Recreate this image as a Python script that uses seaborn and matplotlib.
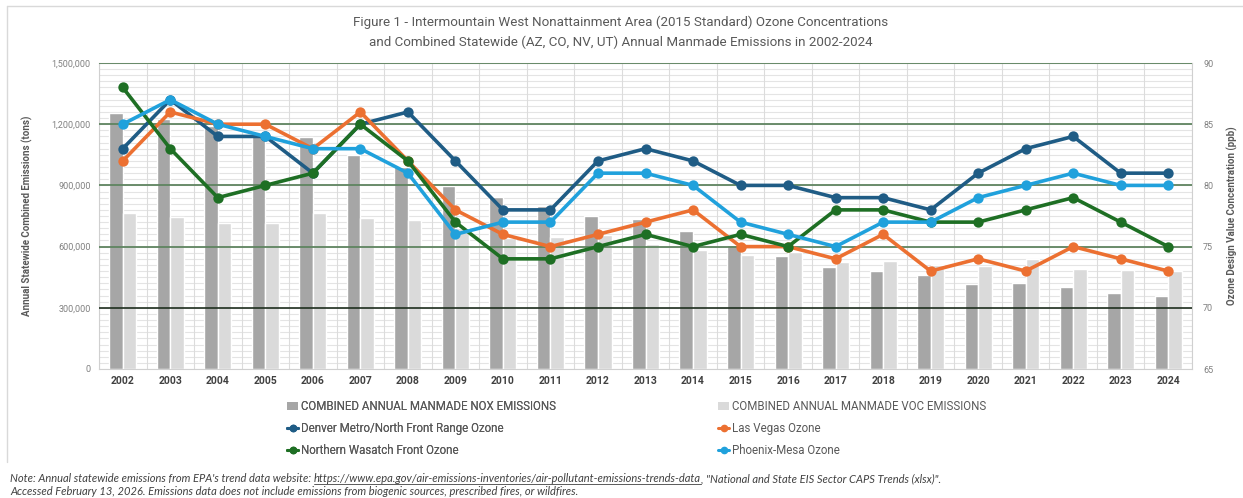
import pandas as pd
import matplotlib
matplotlib.use("Agg")
import matplotlib.pyplot as plt
import seaborn as sns
from matplotlib.lines import Line2D
from matplotlib.patches import Patch
from matplotlib.ticker import FuncFormatter, MultipleLocator

# data
years = [str(y) for y in range(2002, 2025)]
nox = [1255000, 1225000, 1190000, 1145000, 1137000, 1050000, 990000, 897000, 845000,
       800000, 748000, 736000, 676000, 608000, 555000, 498000, 482000, 461000, 417000,
       420000, 400000, 371000, 358000]
voc = [763000, 747000, 717000, 714000, 763000, 742000, 730000, 690000, 642000, 647000,
       657000, 613000, 585000, 559000, 575000, 525000, 531000, 510000, 506000, 538000,
       490000, 485000, 482000]
denver = [83, 87, 84, 84, 81, 85, 86, 82, 78, 78, 82, 83, 82, 80, 80, 79, 79, 78, 81, 83, 84, 81, 81]
las_vegas = [82, 86, 85, 85, 83, 86, 82, 78, 76, 75, 76, 77, 78, 75, 75, 74, 76, 73, 74, 73, 75, 74, 73]
wasatch = [88, 83, 79, 80, 81, 85, 82, 77, 74, 74, 75, 76, 75, 76, 75, 78, 78, 77, 77, 78, 79, 77, 75]
phoenix = [85, 87, 85, 84, 83, 83, 81, 76, 77, 77, 81, 81, 80, 77, 76, 75, 77, 77, 79, 80, 81, 80, 80]

bar_names = ["COMBINED ANNUAL MANMADE NOX EMISSIONS", "COMBINED ANNUAL MANMADE VOC EMISSIONS"]
site_names = ["Denver Metro/North Front Range Ozone", "Las Vegas Ozone",
              "Northern Wasatch Front Ozone", "Phoenix-Mesa Ozone"]
bar_colors = ["#a6a6a6", "#dadada"]
site_colors = ["#1f5c85", "#ec7031", "#1e6f24", "#20a1dc"]

em = pd.DataFrame({"year": years * 2, "tons": nox + voc,
                   "kind": [bar_names[0]] * len(years) + [bar_names[1]] * len(years)})
oz = pd.DataFrame({"year": years * 4,
                   "ppb": denver + las_vegas + wasatch + phoenix,
                   "site": sum([[s] * len(years) for s in site_names], [])})

sns.set_theme(style="white")
plt.rcParams["font.family"] = ["Roboto", "DejaVu Sans"]

fig, ax = plt.subplots(figsize=(12.43, 4.98), dpi=100)
fig.subplots_adjust(left=99 / 1243, right=1192 / 1243, top=1 - 63 / 498, bottom=1 - 369 / 498)

# background grid on the primary axis
ax.set_axisbelow(True)
for k in range(0, 51):
    ax.axhline(k * 30000, color="#e4e4e4", lw=0.8, zorder=0)
for k in range(24):
    ax.axvline(k - 0.5, color="#dcdcdc", lw=0.8, zorder=0)

sns.barplot(data=em, x="year", y="tons", hue="kind", hue_order=bar_names,
            palette=bar_colors, width=0.57, gap=0, saturation=1, ax=ax, legend=False, zorder=2)
ax.set_xlim(-0.5, 22.5)
ax.set_ylim(0, 1500000)
ax.yaxis.set_major_locator(MultipleLocator(300000))
ax.yaxis.set_major_formatter(FuncFormatter(lambda v, p: f"{int(v):,}"))
ax.set_xlabel("")
ax.set_ylabel("")
ax.tick_params(axis="y", length=0, labelsize=6.5, labelcolor="#808080", pad=6)
ax.tick_params(axis="x", length=0, labelsize=7.5, labelcolor="#404040", pad=5)
for t in ax.get_xticklabels():
    t.set_fontweight("bold")
for s in ax.spines.values():
    s.set_color("#d0d0d0")
    s.set_linewidth(0.8)

ax2 = ax.twinx()
for v in [75, 80, 85, 90]:
    ax2.axhline(v, color="#5f8460", lw=1.3, zorder=1)
ax2.axhline(70, color="#1e2e1e", lw=1.2, zorder=1)
sns.pointplot(data=oz, x="year", y="ppb", hue="site", hue_order=site_names,
              palette=site_colors, markers="o", linestyles="-", errorbar=None,
              markersize=5.5, linewidth=2.6, ax=ax2, legend=False, zorder=3)
ax2.set_xlim(-0.5, 22.5)
ax2.set_ylim(65, 90)
ax2.yaxis.set_major_locator(MultipleLocator(5))
ax2.set_ylabel("")
ax2.set_xlabel("")
ax2.tick_params(axis="y", length=0, labelsize=6.5, labelcolor="#808080", pad=8)
for s in ax2.spines.values():
    s.set_visible(False)

# titles and axis labels
fig.text(621 / 1243, 1 - 22 / 498,
         "Figure 1 - Intermountain West Nonattainment Area (2015 Standard) Ozone Concentrations",
         ha="center", va="center", fontsize=9.6, color="#595959")
fig.text(621 / 1243, 1 - 42 / 498,
         "and Combined Statewide (AZ, CO, NV, UT) Annual Manmade Emissions in 2002-2024",
         ha="center", va="center", fontsize=9.6, color="#595959")
fig.text(27 / 1243, 1 - 216 / 498, "Annual Statewide Combined Emissions (tons)", rotation=90,
         ha="center", va="center", fontsize=7, fontweight="bold", color="#595959")
fig.text(1232 / 1243, 1 - 216 / 498, "Ozone Design Value Concentration (ppb)", rotation=90,
         ha="center", va="center", fontsize=7, fontweight="bold", color="#595959")

# legend: two columns placed separately
h_bars = [Patch(facecolor=c, edgecolor="none") for c in bar_colors]
h_lines = [Line2D([], [], color=c, lw=2.2, marker="o", markersize=4.5) for c in site_colors]
leg_kw = dict(loc="upper left", frameon=False, handlelength=0.95, handletextpad=0.2,
              labelspacing=0.78, prop={"size": 8.3}, labelcolor="#595959")
leg1 = fig.legend([h_bars[0], h_lines[0], h_lines[2]], [bar_names[0], site_names[0], site_names[2]],
                  bbox_to_anchor=(277 / 1243, 1 - 390 / 498), **leg_kw)
fig.add_artist(leg1)
fig.legend([h_bars[1], h_lines[1], h_lines[3]], [bar_names[1], site_names[1], site_names[3]],
           bbox_to_anchor=(708 / 1243, 1 - 390 / 498), **leg_kw)

# outer frame lines
fig.add_artist(Line2D([7 / 1243, 1], [1 - 6 / 498, 1 - 6 / 498], color="#d9d9d9", lw=1))
fig.add_artist(Line2D([7 / 1243, 7 / 1243], [1 - 6 / 498, 1 - 462 / 498], color="#d9d9d9", lw=1))

# note with underlined link
note_kw = dict(fontsize=8.0, style="italic", color="#404040", family=["Lato", "DejaVu Sans"],
               va="baseline")
renderer = fig.canvas.get_renderer()
y1 = 1 - 482 / 498
t1 = fig.text(10 / 1243, y1, "Note: Annual statewide emissions from EPA's trend data website: ", **note_kw)
b1 = t1.get_window_extent(renderer)
x_url = b1.x1 / fig.bbox.width
t2 = fig.text(x_url, y1, "https://www.epa.gov/air-emissions-inventories/air-pollutant-emissions-trends-data",
              **note_kw)
b2 = t2.get_window_extent(renderer)
fig.add_artist(Line2D([x_url, b2.x1 / fig.bbox.width], [y1 - 2 / 498, y1 - 2 / 498],
                      color="#404040", lw=0.6))
fig.text(b2.x1 / fig.bbox.width, y1, ", \"National and State EIS Sector CAPS Trends (xlsx)\".", **note_kw)
fig.text(10 / 1243, 1 - 495 / 498,
         "Accessed February 13, 2026. Emissions data does not include emissions from biogenic sources, "
         "prescribed fires, or wildfires.", **note_kw)

fig.savefig("out.png", dpi=100)
